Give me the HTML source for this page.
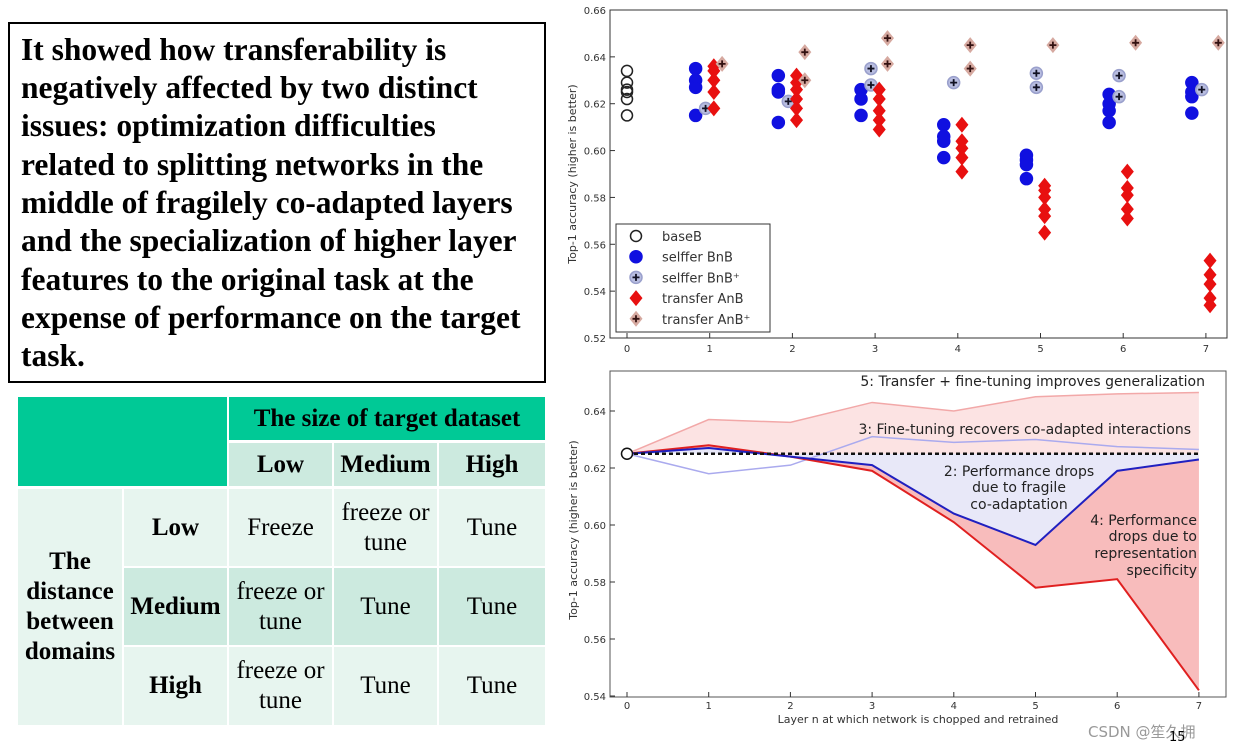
<!DOCTYPE html>
<html><head><meta charset="utf-8">
<style>
body{margin:0;width:1233px;height:749px;background:#fff;position:relative;overflow:hidden;font-family:"Liberation Sans",sans-serif}
#tb{position:absolute;left:8px;top:22px;width:534px;height:357px;border:2px solid #000;}
#tb div{position:absolute;left:11px;font:bold 31.5px "Liberation Serif",serif;white-space:nowrap;color:#000}
.c{position:absolute;display:flex;align-items:center;justify-content:center;text-align:center;font:25px/30px "Liberation Serif",serif;color:#000;box-sizing:border-box}
.b{font-weight:bold}
.g{background:#00c996}.l{background:#cceadf}.p{background:#e7f5ef}
svg{position:absolute;left:0;top:0}
svg text{font-family:"DejaVu Sans",sans-serif}
</style></head><body>
<div id="tb">
<div style="top:8px">It showed how transferability is</div>
<div style="top:46px">negatively affected by two distinct</div>
<div style="top:84px">issues: optimization difficulties</div>
<div style="top:123px">related to splitting networks in the</div>
<div style="top:161px">middle of fragilely co-adapted layers</div>
<div style="top:199px">and the specialization of higher layer</div>
<div style="top:238px">features to the original task at the</div>
<div style="top:276px">expense of performance on the target</div>
<div style="top:314px">task.</div>
</div>
<div>
<div class="c g" style="left:18px;top:397px;width:209px;height:89px"></div>
<div class="c g b" style="left:229px;top:397px;width:316px;height:43px">The size of target dataset</div>
<div class="c l b" style="left:229px;top:443px;width:103px;height:43px">Low</div>
<div class="c l b" style="left:334px;top:443px;width:103px;height:43px">Medium</div>
<div class="c l b" style="left:439px;top:443px;width:106px;height:43px">High</div>
<div class="c p b" style="left:18px;top:489px;width:104px;height:236px">The<br>distance<br>between<br>domains</div>
<div class="c p b" style="left:124px;top:489px;width:103px;height:77px">Low</div>
<div class="c p" style="left:229px;top:489px;width:103px;height:77px">Freeze</div>
<div class="c p" style="left:334px;top:489px;width:103px;height:77px">freeze or<br>tune</div>
<div class="c p" style="left:439px;top:489px;width:106px;height:77px">Tune</div>
<div class="c l b" style="left:124px;top:568px;width:103px;height:77px">Medium</div>
<div class="c l" style="left:229px;top:568px;width:103px;height:77px">freeze or<br>tune</div>
<div class="c l" style="left:334px;top:568px;width:103px;height:77px">Tune</div>
<div class="c l" style="left:439px;top:568px;width:106px;height:77px">Tune</div>
<div class="c p b" style="left:124px;top:647px;width:103px;height:78px">High</div>
<div class="c p" style="left:229px;top:647px;width:103px;height:78px">freeze or<br>tune</div>
<div class="c p" style="left:334px;top:647px;width:103px;height:78px">Tune</div>
<div class="c p" style="left:439px;top:647px;width:106px;height:78px">Tune</div>
</div>
<svg id="s" width="1233" height="749"></svg>
<script>
const layers=[0,1,2,3,4,5,6,7];
const yTicksTop=[0.52,0.54,0.56,0.58,0.60,0.62,0.64,0.66];
const yTicksBot=[0.54,0.56,0.58,0.60,0.62,0.64];
const baseB=[0.634,0.629,0.626,0.625,0.622,0.615];
const bnb=[[],[0.635,0.630,0.627,0.615],[0.632,0.626,0.625,0.612],[0.626,0.622,0.615],[0.611,0.606,0.604,0.597],[0.598,0.596,0.594,0.588],[0.624,0.620,0.617,0.612],[0.629,0.625,0.623,0.616]];
const bnbPlus=[[],[0.618],[0.621],[0.635,0.628],[0.629],[0.633,0.627],[0.632,0.623],[0.626]];
const anb=[[],[0.636,0.634,0.630,0.625,0.618],[0.632,0.629,0.626,0.622,0.618,0.613],[0.626,0.622,0.617,0.613,0.609],[0.611,0.604,0.601,0.597,0.591],[0.585,0.583,0.580,0.575,0.572,0.565],[0.591,0.584,0.581,0.575,0.571],[0.553,0.547,0.543,0.537,0.534]];
const anbPlus=[[],[0.637],[0.642,0.630],[0.648,0.637],[0.645,0.635],[0.645],[0.646],[0.646]];
const meanAnB=[0.625,0.628,0.624,0.619,0.601,0.578,0.581,0.542];
const meanBnB=[0.625,0.627,0.624,0.621,0.604,0.593,0.619,0.623];
const meanBnBPlus=[0.625,0.618,0.621,0.631,0.629,0.630,0.6275,0.6265];
const meanAnBPlus=[0.625,0.637,0.636,0.643,0.640,0.645,0.646,0.6465];
const baseline=0.625;
const NS='http://www.w3.org/2000/svg',S=document.getElementById('s');
function mk(t,a,txt){const e=document.createElementNS(NS,t);for(const k in a)e.setAttribute(k,a[k]);if(txt!==undefined)e.textContent=txt;S.appendChild(e);return e;}
const xT=i=>627+i*82.7, yT=v=>10+(0.66-v)/0.14*328;
const xB=i=>627+i*81.7, yB=v=>411+(0.64-v)/0.02*57;
let e=mk('rect',{x:610,y:10,width:617,height:328,fill:'none',stroke:'#333','stroke-width':1});

yTicksTop.forEach(v=>{mk('line',{x1:610,x2:615,y1:yT(v),y2:yT(v),stroke:'#333'});
 e=mk('text',{x:606,y:yT(v)+4,'font-size':10,'text-anchor':'end',fill:'#333'},v.toFixed(2));
 });
layers.forEach(i=>{mk('line',{x1:xT(i),x2:xT(i),y1:338,y2:333,stroke:'#333'});
 e=mk('text',{x:xT(i),y:352,'font-size':10,'text-anchor':'middle',fill:'#333'},i);
 });
e=mk('text',{x:0,y:0,'font-size':11,'text-anchor':'middle',fill:'#333',transform:'translate(576,174) rotate(-90)'},'Top-1 accuracy (higher is better)');

function circ(x,y,fill,stroke,name,r){const c=mk('circle',{cx:x,cy:y,r:r||6,fill:fill,stroke:stroke,'stroke-width':1.5});}
function plus(x,y,name){circ(x,y,'#b8bde0','#9aa0cc',name);mk('path',{d:`M${x-3.5} ${y}h7M${x} ${y-3.5}v7`,stroke:'#112',"stroke-width":1.8});}
function dia(x,y,fill,name){const d=mk('path',{d:`M${x} ${y-8}L${x+6.5} ${y}L${x} ${y+8}L${x-6.5} ${y}Z`,fill:fill});}
function diaP(x,y,name){dia(x,y,'#d6a9a0',name);mk('path',{d:`M${x-3.5} ${y}h7M${x} ${y-3.5}v7`,stroke:'#311',"stroke-width":1.8});}
baseB.forEach(v=>circ(xT(0),yT(v),'none','#222','baseB-point',5.5));
layers.forEach(i=>{
 bnb[i].forEach(v=>circ(xT(i-0.17),yT(v),'#1010e0','#1010e0','selffer-bnb-point'));
 bnbPlus[i].forEach(v=>plus(xT(i-0.05),yT(v),'selffer-bnb-plus-point'));
 anb[i].forEach(v=>dia(xT(i+0.05),yT(v),'#e81010','transfer-anb-point'));
 anbPlus[i].forEach(v=>diaP(xT(i+0.15),yT(v),'transfer-anb-plus-point'));
});
e=mk('rect',{x:616,y:224,width:154,height:108,fill:'#fff',stroke:'#333'});

const leg=[['baseB',0],['selffer BnB',1],['selffer BnB⁺',2],['transfer AnB',3],['transfer AnB⁺',4]];
leg.forEach(([t,k])=>{const y=236+k*20.7;
 if(k==0)circ(636,y,'none','#222','legend-marker',5.5);if(k==1)circ(636,y,'#1010e0','#1010e0','legend-marker');
 if(k==2)plus(636,y,'legend-marker');if(k==3)dia(636,y,'#e81010','legend-marker');if(k==4)diaP(636,y,'legend-marker');
 e=mk('text',{x:662,y:y+5,'font-size':13,fill:'#333'},t);});
const ptsX=(a)=>a.map((v,i)=>xB(i)+','+yB(v));
e=mk('polygon',{points:ptsX(meanAnBPlus).concat(ptsX(meanAnB).reverse()).join(' '),fill:'#fce3e3'});

e=mk('polygon',{points:ptsX(meanBnB).concat(layers.map(i=>xB(i)+','+yB(baseline)).reverse()).join(' '),fill:'#e8e8f8'});

e=mk('polygon',{points:ptsX(meanAnB).concat(ptsX(meanBnB).reverse()).join(' '),fill:'#f8bcbc'});

[[meanAnBPlus,'#f2a8a8',1.5,'line-anb-plus'],[meanBnBPlus,'#aaaaee',1.5,'line-bnb-plus'],[meanAnB,'#e02020',2,'line-anb'],[meanBnB,'#2020c0',2,'line-bnb']].forEach(([a,c,w,n])=>{
 e=mk('polyline',{points:ptsX(a).join(' '),fill:'none',stroke:c,'stroke-width':w});});
e=mk('line',{x1:xB(0),x2:xB(7),y1:yB(baseline),y2:yB(baseline),stroke:'#111','stroke-width':2.5,'stroke-dasharray':'4,3'});

circ(xB(0),yB(baseline),'#fff','#111','baseline-marker',5.5);
e=mk('rect',{x:610,y:371,width:616,height:326,fill:'none',stroke:'#555','stroke-width':1});

yTicksBot.forEach(v=>{mk('line',{x1:610,x2:615,y1:yB(v),y2:yB(v),stroke:'#333'});
 e=mk('text',{x:606,y:yB(v)+4,'font-size':10,'text-anchor':'end',fill:'#333'},v.toFixed(2));
 });
layers.forEach(i=>{mk('line',{x1:xB(i),x2:xB(i),y1:697,y2:692,stroke:'#333'});
 e=mk('text',{x:xB(i),y:709,'font-size':10,'text-anchor':'middle',fill:'#333'},i);
 });
e=mk('text',{x:0,y:0,'font-size':11,'text-anchor':'middle',fill:'#333',transform:'translate(577,530) rotate(-90)'},'Top-1 accuracy (higher is better)');

e=mk('text',{x:918,y:723,'font-size':11,'text-anchor':'middle',fill:'#333'},'Layer n at which network is chopped and retrained');

const ann=[[1205,386,'end','5: Transfer + fine-tuning improves generalization'],[1191,434,'end','3: Fine-tuning recovers co-adapted interactions'],
[1019,476,'middle','2: Performance drops'],[1019,492,'middle','due to fragile'],[1019,509,'middle','co-adaptation'],
[1197,525,'end','4: Performance'],[1197,541,'end','drops due to'],[1197,558,'end','representation'],[1197,575,'end','specificity']];
ann.forEach(([x,y,a,t])=>{e=mk('text',{x:x,y:y,'font-size':14,'text-anchor':a,fill:'#222'},t);});
e=mk('text',{x:1088,y:737,'font-size':15,fill:'#999','font-family':'"Liberation Sans","Noto Sans CJK SC",sans-serif'},'CSDN @笙久拥');

e=mk('text',{x:1169,y:741,'font-size':13,fill:'#000'},'15');

</script>
</body></html>
